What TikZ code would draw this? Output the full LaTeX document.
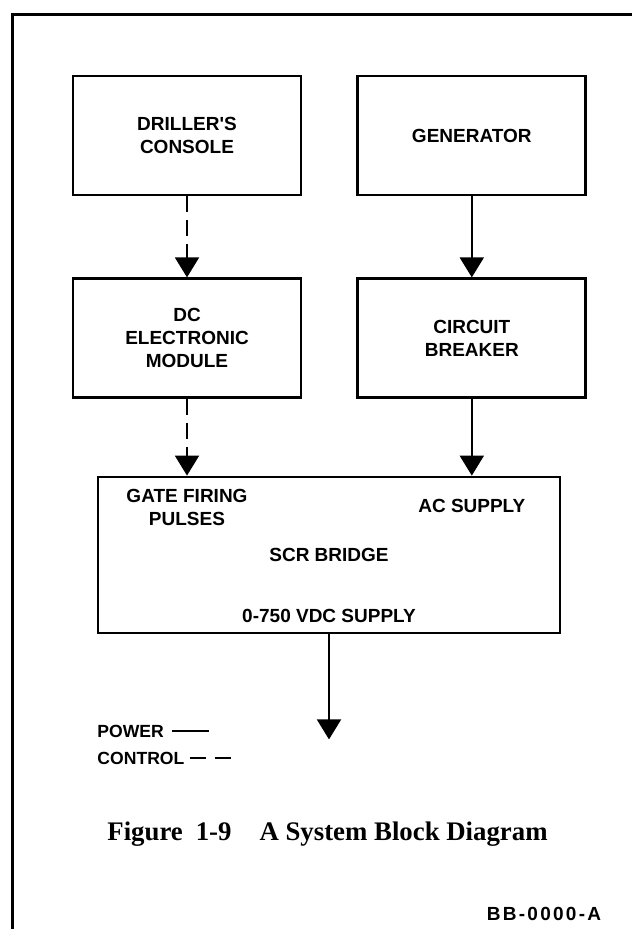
\documentclass[tikz,border=0pt]{standalone}
\usepackage{fontspec}
\setmainfont{Liberation Serif}
\setsansfont{Liberation Sans}
\usetikzlibrary{positioning,arrows.meta,calc}

\begin{document}
\begin{tikzpicture}[
      x=0.5pt, y=-0.5pt,
      every node/.style={font=\sffamily\bfseries\fontsize{9.5}{11.5}\selectfont, inner sep=0pt},
      unit/.style={rectangle, draw=black, line width=1.4pt,
                   minimum width=114pt, minimum height=59.5pt, align=center},
      bridge/.style={rectangle, draw=black, line width=1.4pt,
                   minimum width=231pt, minimum height=78pt},
      lbl/.style={align=center},
      legend/.style={font=\sffamily\bfseries\fontsize{8.8}{10}\selectfont, anchor=west},
      power/.style={-{Triangle[length=10pt,width=12pt]}, line width=1pt},
      control/.style={power, dash pattern=on 8pt off 4pt},
      frame/.style={line width=1.5pt},
    ]
    \useasboundingbox (0,0) rectangle (632,929);

    % Page frame
    \draw[frame] (12,929) -- (12,15) -- (632,15);

    % Node layout
    \node[unit] (drill) at (187,135.5) {DRILLER\textquotesingle S\\CONSOLE};
    \node[unit, right=27pt of drill] (gen) {GENERATOR};
    \node[unit, below=40.5pt of drill] (dcm) {DC\\ELECTRONIC\\MODULE};
    \node[unit, below=40.5pt of gen] (cb) {CIRCUIT\\BREAKER};
    \node[bridge] (bridge) at (329,555) {};
    \coordinate (gin) at (dcm.south |- bridge.north);
    \coordinate (acin) at (cb.south |- bridge.north);
    \coordinate[below=52.5pt of bridge.south] (out);

    % Texts inside the bridge
    \node[lbl, below=6.5pt of gin] (gate) {GATE FIRING\\PULSES};
    \node[lbl, below=11.5pt of acin] (ac) {AC SUPPLY};
    \node[lbl] (scr) at (bridge.center) {SCR BRIDGE};
    \node[lbl, above=5.5pt of bridge.south] (vdc) {0-750 VDC SUPPLY};

    % Arrow connections
    \draw[control] (drill) -- (dcm);
    \draw[power] (gen) -- (cb);
    \draw[control] (dcm) -- (gin);
    \draw[power] (cb) -- (acin);
    \draw[power] (bridge) -- (out);

    % Legend
    \node[legend] (pw) at (97,731) {POWER};
    \node[legend] (ctl) at (97,758) {CONTROL};
    \draw[line width=1pt] ([xshift=4pt]pw.east) -- ++(18.5pt,0);
    \draw[line width=1pt, dash pattern=on 8pt off 4.5pt] ([xshift=2.5pt]ctl.east) -- ++(21pt,0);

    % Caption and drawing number
    \node[anchor=base, font=\rmfamily\bfseries\fontsize{13.4}{16}\selectfont] (cap) at (327.5,840)
      {Figure\hspace{6.5pt}1-9\hspace{14pt}A System Block Diagram};
    \node[anchor=base, font=\sffamily\bfseries\fontsize{9.5}{11}\selectfont\addfontfeature{LetterSpace=12}] (dwg) at (544,920) {BB-0000-A};

  \end{tikzpicture}
\end{document}
